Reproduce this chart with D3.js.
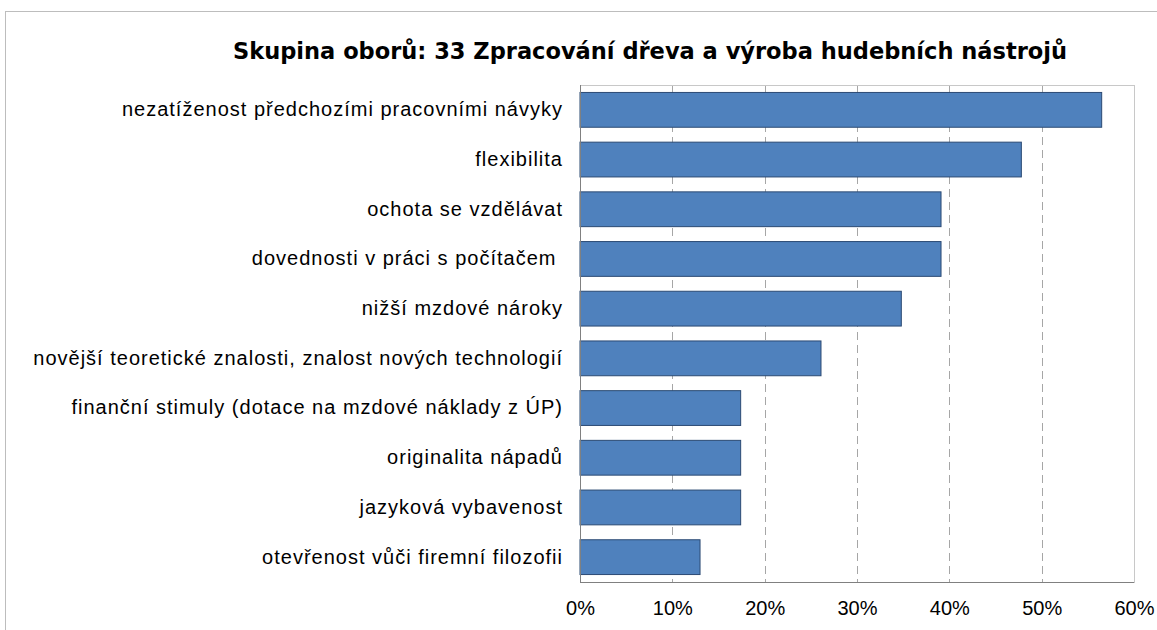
<!DOCTYPE html>
<html>
<head>
<meta charset="utf-8">
<script src="https://cdn.jsdelivr.net/npm/d3@7"></script>
<style>
  body { margin: 0; background: #fff; }
  svg { display: block; }
</style>
</head>
<body>
<div id="page"></div>
<script>
var title = "Skupina oborů: 33 Zpracování dřeva a výroba hudebních nástrojů";

var categories = [
  "nezatíženost předchozími pracovními návyky",
  "flexibilita",
  "ochota se vzdělávat",
  "dovednosti v práci s počítačem ",
  "nižší mzdové nároky",
  "novější teoretické znalosti, znalost nových technologií",
  "finanční stimuly (dotace na mzdové náklady z ÚP)",
  "originalita nápadů",
  "jazyková vybavenost",
  "otevřenost vůči firemní filozofii"
];

var values = [0.565, 0.478, 0.391, 0.391, 0.348, 0.261, 0.174, 0.174, 0.174, 0.130];

var tickValues = [0, 0.1, 0.2, 0.3, 0.4, 0.5, 0.6];

var width = 1157,
    height = 630,
    margin = {top: 85, right: 23, bottom: 48, left: 580};

var svg = d3.select("#page").append("svg")
    .attr("width", width)
    .attr("height", height);

// outer chart frame
svg.append("rect")
    .attr("x", 5.5).attr("y", 11.5)
    .attr("width", width + 10).attr("height", height + 10)
    .attr("fill", "none")
    .attr("stroke", "#bdbdbd");

svg.append("text")
    .attr("x", 650).attr("y", 59)
    .attr("text-anchor", "middle")
    .attr("textLength", 834)
    .attr("lengthAdjust", "spacingAndGlyphs")
    .style("font-family", "'DejaVu Sans', Tahoma, sans-serif")
    .style("font-weight", "bold")
    .style("font-size", "23px")
    .attr("fill", "#000")
    .text(title);

var x = d3.scaleLinear()
    .domain([0, 0.6])
    .range([margin.left, width - margin.right]);

var y = d3.scaleBand()
    .domain(categories)
    .range([margin.top, height - margin.bottom])
    .paddingInner(0.3)
    .paddingOuter(0.15);

// dashed gridlines
svg.append("g")
  .selectAll("line")
    .data(tickValues.slice(1, -1))
  .enter().append("line")
    .attr("x1", function(d) { return Math.round(x(d)) + 0.5; })
    .attr("x2", function(d) { return Math.round(x(d)) + 0.5; })
    .attr("y1", margin.top)
    .attr("y2", height - margin.bottom)
    .attr("stroke", "#a6a6a6")
    .attr("stroke-dasharray", "8,5");

// plot border
svg.append("rect")
    .attr("x", margin.left + 0.5)
    .attr("y", margin.top + 0.5)
    .attr("width", x(0.6) - x(0))
    .attr("height", height - margin.bottom - margin.top)
    .attr("fill", "none")
    .attr("stroke", "#c8c8c8");

svg.append("g")
  .selectAll("rect")
    .data(values)
  .enter().append("rect")
    .attr("x", x(0))
    .attr("y", function(d, i) { return y(categories[i]); })
    .attr("width", function(d) { return x(d) - x(0); })
    .attr("height", y.bandwidth())
    .attr("fill", "#4f81bd")
    .attr("stroke", "#2b4a73")
    .attr("stroke-width", 1);

// axes lines
svg.append("line")
    .attr("x1", margin.left + 0.5).attr("x2", margin.left + 0.5)
    .attr("y1", margin.top).attr("y2", height - margin.bottom)
    .attr("stroke", "#808080");
svg.append("line")
    .attr("x1", margin.left).attr("x2", x(0.6))
    .attr("y1", height - margin.bottom + 0.5).attr("y2", height - margin.bottom + 0.5)
    .attr("stroke", "#808080");

var xAxis = d3.axisBottom(x)
    .tickValues(tickValues)
    .tickFormat(d3.format(".0%"))
    .tickSize(0)
    .tickPadding(19);

svg.append("g")
    .attr("transform", "translate(0," + (height - margin.bottom) + ")")
    .call(xAxis)
    .call(function(g) { g.select(".domain").remove(); })
    .selectAll("text")
    .style("font-family", "'Liberation Sans', Arial, sans-serif")
    .style("font-size", "20px")
    .attr("fill", "#000");

var yAxis = d3.axisLeft(y).tickSize(0).tickPadding(17);

svg.append("g")
    .attr("transform", "translate(" + margin.left + ",0)")
    .call(yAxis)
    .call(function(g) { g.select(".domain").remove(); })
    .selectAll("text")
    .style("font-family", "'Liberation Sans', Arial, sans-serif")
    .style("font-size", "20px")
    .style("letter-spacing", "1px")
    .style("white-space", "pre")
    .attr("fill", "#000");
</script>
</body>
</html>
